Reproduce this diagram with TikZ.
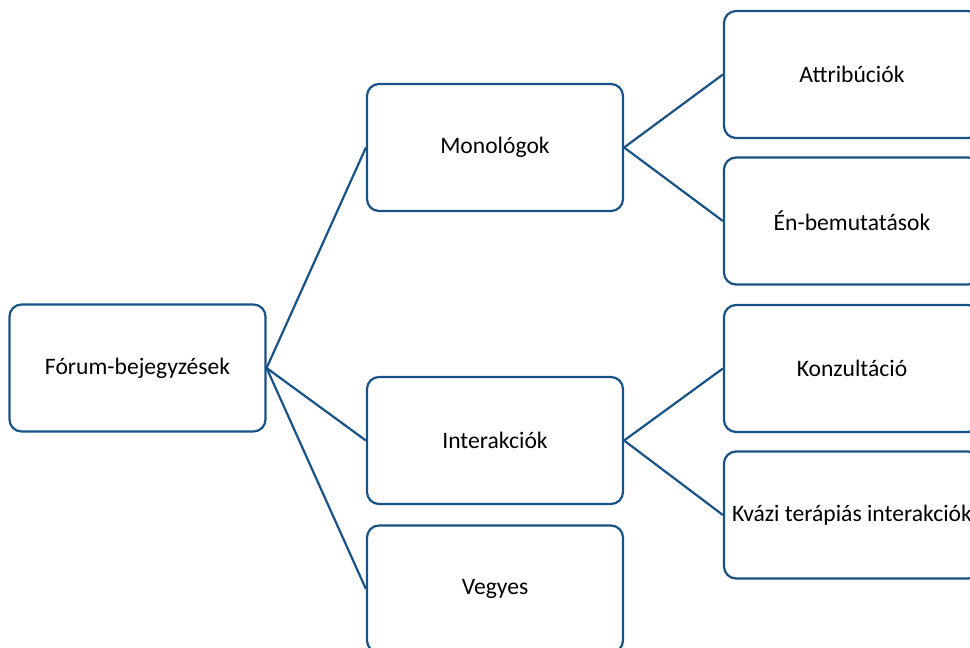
\documentclass[tikz,border=0pt]{standalone}
\usepackage{fontspec}
\setmainfont{Carlito}
\definecolor{boxblue}{RGB}{24,82,134}
\tikzset{
  box/.style={draw=boxblue, line width=2.2pt, rounded corners=12pt, fill=white,
    minimum width=256pt, minimum height=127pt, inner sep=0pt, align=center,
    font=\fontsize{23.6}{28}\selectfont, text=black},
  link/.style={draw=boxblue, line width=2.2pt}
}
\begin{document}
\begin{tikzpicture}[x=1pt,y=-1pt]
\useasboundingbox (0,0) rectangle (970,648);
\node[box] (forum) at (137.5,368) {Fórum-bejegyzések};
\node[box] (mono) at (495,147.5) {Monológok};
\node[box] (inter) at (495,440.5) {Interakciók};
\node[box] (veg) at (495,589) {Vegyes};
\node[box] (attr) at (852,74.5) {Attribúciók};
\node[box] (en) at (852,221) {Én-bemutatások};
\node[box] (konz) at (852,368.5) {Konzultáció};
\node[box] (kvazi) at (852,515) {Kvázi terápiás interakciók};
\draw[link] (forum.east) -- (mono.west);
\draw[link] (forum.east) -- (inter.west);
\draw[link] (forum.east) -- (veg.west);
\draw[link] (mono.east) -- (attr.west);
\draw[link] (mono.east) -- (en.west);
\draw[link] (inter.east) -- (konz.west);
\draw[link] (inter.east) -- (kvazi.west);
\end{tikzpicture}
\end{document}
